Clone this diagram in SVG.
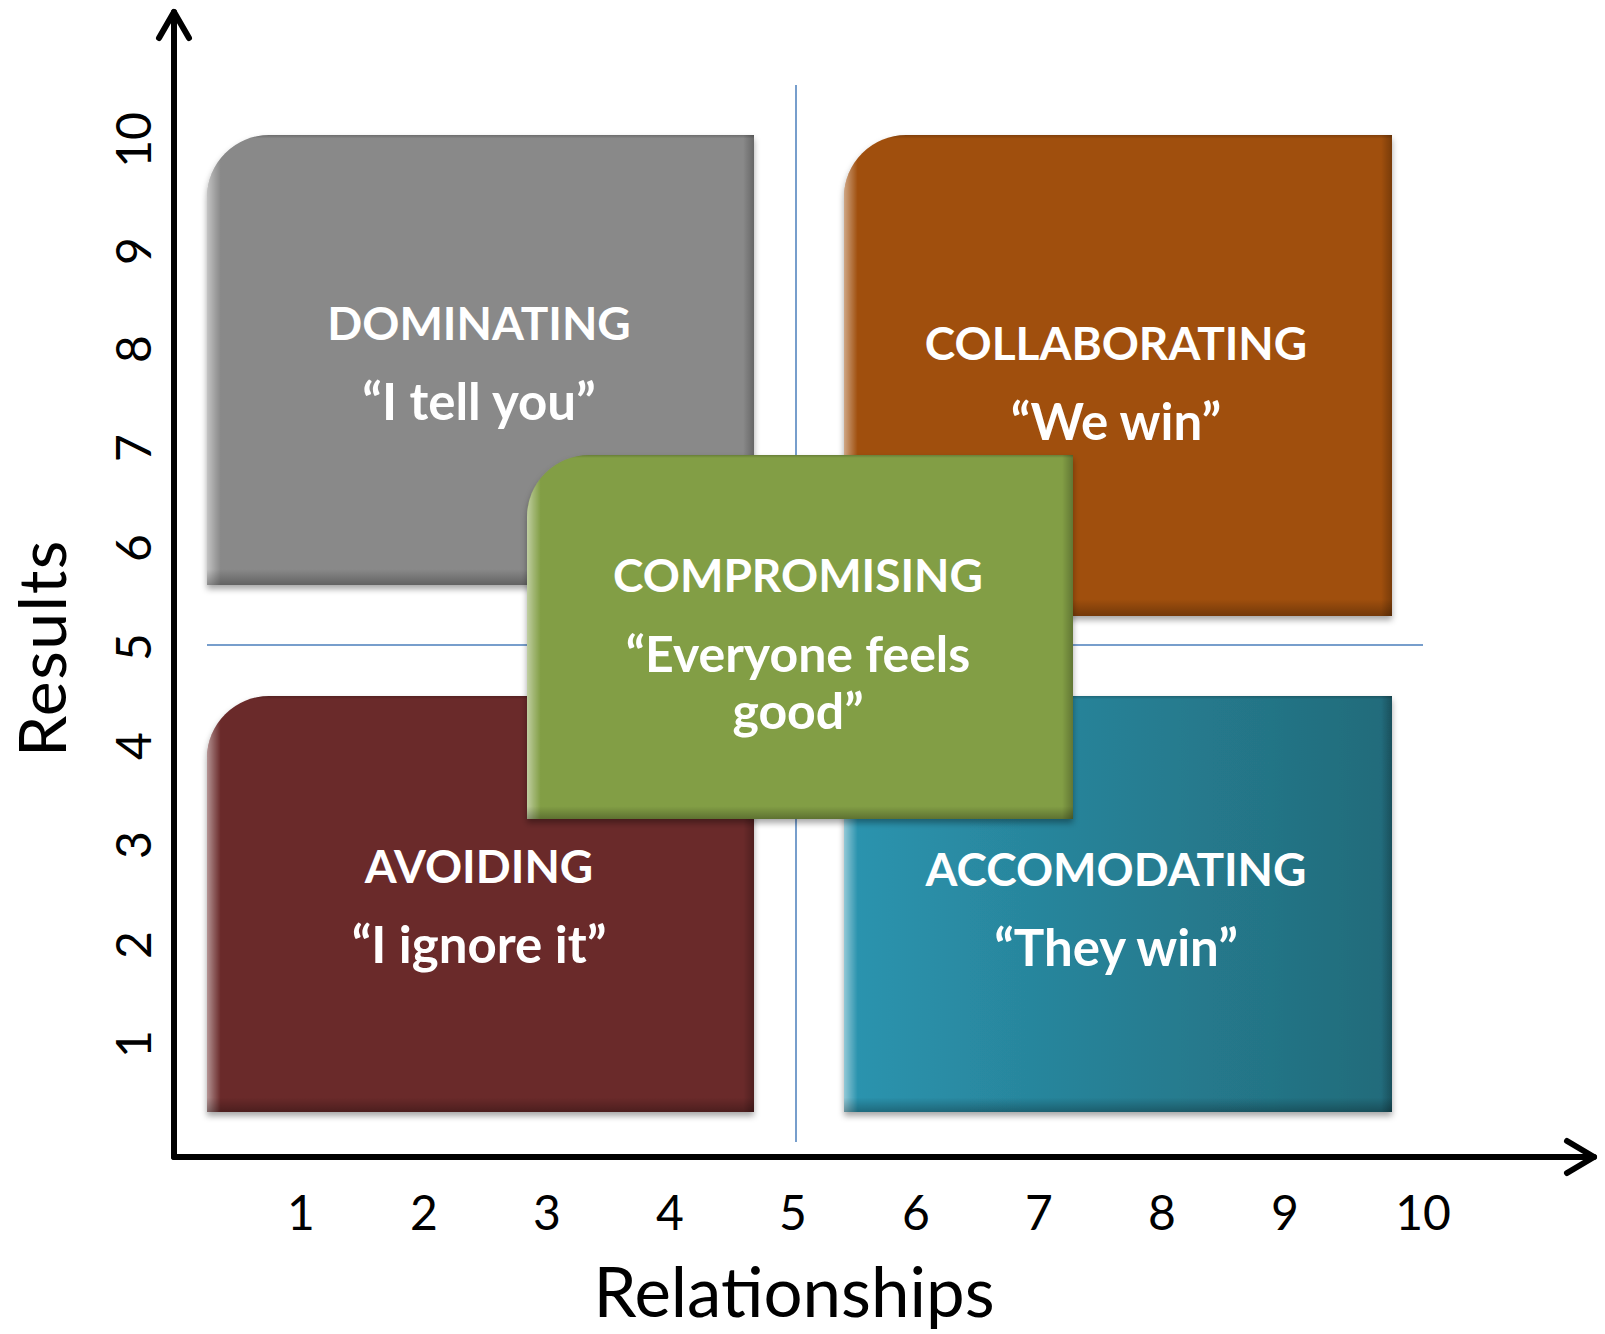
<svg xmlns="http://www.w3.org/2000/svg" width="1605" height="1334" viewBox="0 0 1605 1334">
<style>
.lbl{font-family:Lato,"Open Sans","Liberation Sans",sans-serif;font-weight:700;fill:#fff;font-size:46px;text-anchor:middle}
.q{font-size:51px}
.num{font-family:Lato,"Open Sans","Liberation Sans",sans-serif;font-size:48px;fill:#000;text-anchor:middle}
.ttl{font-family:Lato,"Open Sans","Liberation Sans",sans-serif;font-size:69px;fill:#000;text-anchor:middle}
.axis{stroke:#000;stroke-width:6;fill:none;stroke-linecap:round;stroke-linejoin:round}
.guide{stroke:#4A7EBB;stroke-width:1.5;fill:none}
.hl{fill:url(#hgrad)}
.vl{fill:url(#vgrad)}
</style>
<defs>
<filter id="sh" x="-5%" y="-5%" width="110%" height="115%">
<feDropShadow dx="0" dy="4" stdDeviation="3" flood-color="#000" flood-opacity="0.35"/>
</filter>
<linearGradient id="hgrad" x1="0" y1="0" x2="1" y2="0">
<stop offset="0" stop-color="#fff" stop-opacity="0.5"/>
<stop offset="0.012" stop-color="#fff" stop-opacity="0.25"/>
<stop offset="0.025" stop-color="#fff" stop-opacity="0"/>
<stop offset="0.98" stop-color="#000" stop-opacity="0"/>
<stop offset="1" stop-color="#000" stop-opacity="0.25"/>
</linearGradient>
<linearGradient id="vgrad" x1="0" y1="0" x2="0" y2="1">
<stop offset="0" stop-color="#000" stop-opacity="0.2"/>
<stop offset="0.008" stop-color="#000" stop-opacity="0"/>
<stop offset="0.965" stop-color="#000" stop-opacity="0"/>
<stop offset="1" stop-color="#000" stop-opacity="0.28"/>
</linearGradient>
<linearGradient id="teal" x1="0" y1="0" x2="1" y2="0">
<stop offset="0" stop-color="#2B94AF"/>
<stop offset="1" stop-color="#226B7A"/>
</linearGradient>
</defs>

<g id="connectors">
<line class="guide" x1="796" y1="85" x2="796" y2="1142"/>
<line class="guide" x1="207" y1="645" x2="1423" y2="645"/>
<path class="axis" d="M174 1157 V12"/>
<path class="axis" d="M159 38 L174 12 L189 38"/>
<path class="axis" d="M174 1157 H1594"/>
<path class="axis" d="M1567 1141 L1594 1157 L1567 1173"/>
</g>

<g id="dominating">
<path filter="url(#sh)" fill="#898989" d="M207 197 A62 62 0 0 1 269 135 H754 V585 H207 Z"/>
<path class="hl" d="M207 197 A62 62 0 0 1 269 135 H754 V585 H207 Z"/>
<path class="vl" d="M207 197 A62 62 0 0 1 269 135 H754 V585 H207 Z"/>
<text class="lbl" x="479" y="340">DOMINATING</text>
<text class="lbl q" x="479" y="420">“I tell you”</text>
</g>

<g id="collaborating">
<path filter="url(#sh)" fill="#A0500E" d="M844 197 A62 62 0 0 1 906 135 H1392 V616 H844 Z"/>
<path class="hl" d="M844 197 A62 62 0 0 1 906 135 H1392 V616 H844 Z"/>
<path class="vl" d="M844 197 A62 62 0 0 1 906 135 H1392 V616 H844 Z"/>
<text class="lbl" x="1116" y="360">COLLABORATING</text>
<text class="lbl q" x="1116" y="440">“We win”</text>
</g>

<g id="avoiding">
<path filter="url(#sh)" fill="#6B2A2A" d="M207 758 A62 62 0 0 1 269 696 H754 V1112 H207 Z"/>
<path class="hl" d="M207 758 A62 62 0 0 1 269 696 H754 V1112 H207 Z"/>
<path class="vl" d="M207 758 A62 62 0 0 1 269 696 H754 V1112 H207 Z"/>
<text class="lbl" x="479" y="883">AVOIDING</text>
<text class="lbl q" x="479" y="963">“I ignore it”</text>
</g>

<g id="accomodating">
<path filter="url(#sh)" fill="url(#teal)" d="M844 696 H1392 V1112 H844 Z"/>
<path class="hl" d="M844 696 H1392 V1112 H844 Z"/>
<path class="vl" d="M844 696 H1392 V1112 H844 Z"/>
<text class="lbl" x="1116" y="886">ACCOMODATING</text>
<text class="lbl q" x="1116" y="966">“They win”</text>
</g>

<g id="compromising">
<path filter="url(#sh)" fill="#829E45" d="M527 517 A62 62 0 0 1 589 455 H1073 V819 H527 Z"/>
<path class="hl" d="M527 517 A62 62 0 0 1 589 455 H1073 V819 H527 Z"/>
<path class="vl" d="M527 517 A62 62 0 0 1 589 455 H1073 V819 H527 Z"/>
<text class="lbl" x="798" y="592">COMPROMISING</text>
<text class="lbl q" x="798" y="672" style="font-size:50px">“Everyone feels</text>
<text class="lbl q" x="798" y="729" style="font-size:50px">good”</text>
</g>

<g id="x-axis-labels">
<text class="num" x="301" y="1230">1</text>
<text class="num" x="424" y="1230">2</text>
<text class="num" x="547" y="1230">3</text>
<text class="num" x="670" y="1230">4</text>
<text class="num" x="793" y="1230">5</text>
<text class="num" x="916" y="1230">6</text>
<text class="num" x="1039" y="1230">7</text>
<text class="num" x="1162" y="1230">8</text>
<text class="num" x="1285" y="1230">9</text>
<text class="num" x="1423" y="1230">10</text>
<text class="ttl" x="794" y="1317">Relationships</text>
</g>

<g id="y-axis-labels">
<text class="num" transform="translate(151 1044) rotate(-90)">1</text>
<text class="num" transform="translate(151 945) rotate(-90)">2</text>
<text class="num" transform="translate(151 845) rotate(-90)">3</text>
<text class="num" transform="translate(151 746) rotate(-90)">4</text>
<text class="num" transform="translate(151 647) rotate(-90)">5</text>
<text class="num" transform="translate(151 548) rotate(-90)">6</text>
<text class="num" transform="translate(151 448) rotate(-90)">7</text>
<text class="num" transform="translate(151 349) rotate(-90)">8</text>
<text class="num" transform="translate(151 251) rotate(-90)">9</text>
<text class="num" transform="translate(151 140) rotate(-90)">10</text>
<text class="ttl" transform="translate(66 648) rotate(-90)" style="font-size:66px;letter-spacing:1.5px">Results</text>
</g>
</svg>
